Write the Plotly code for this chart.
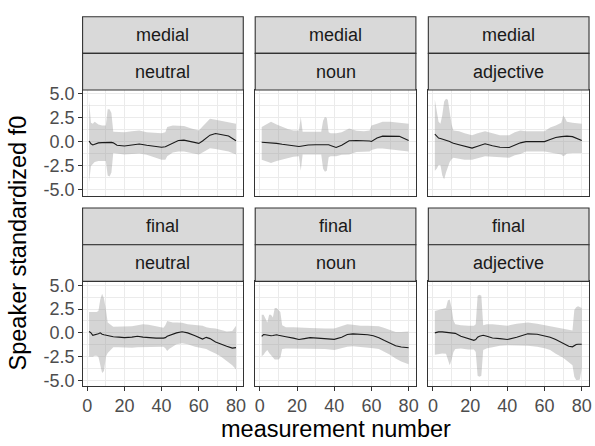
import plotly.graph_objects as go

# ---------------- data ----------------
position_labels = ["medial", "final"]
type_labels = ["neutral", "noun", "adjective"]

x_ticks = [0, 20, 40, 60, 80]
y_ticks = [-5.0, -2.5, 0.0, 2.5, 5.0]
y_tick_text = ["-5.0", "-2.5", "0.0", "2.5", "5.0"]

# medial / neutral
mn_x = [1, 2, 3, 4, 6, 8, 10, 11, 12, 13, 14, 16, 20, 24, 28, 32, 36, 40, 42, 43, 46, 49, 52, 56, 60, 62, 66, 69, 72, 76, 80]
mn_mean = [0.1, -0.2, -0.32, -0.25, -0.1, -0.08, -0.05, -0.05, -0.06, -0.05, -0.1, -0.35, -0.42, -0.35, -0.22, -0.35, -0.45, -0.55, -0.5, -0.4, -0.1, 0.15, 0.18, 0.05, -0.15, 0.1, 0.7, 0.88, 0.75, 0.62, 0.12]
mn_hi = [4.3, 2.0, 1.9, 2.1, 1.8, 1.7, 1.7, 3.4, 3.4, 3.0, 1.05, 1.05, 1.0, 1.1, 1.2, 1.0, 0.95, 0.9, 1.0, 1.55, 1.7, 1.7, 1.65, 1.4, 1.2, 1.6, 2.4, 2.3, 2.2, 2.0, 1.9]
mn_lo = [-4.2, -2.5, -2.3, -2.1, -2.0, -2.0, -2.0, -3.5, -3.6, -3.2, -1.15, -1.2, -1.3, -1.25, -1.2, -1.35, -1.6, -1.85, -1.85, -1.5, -1.1, -1.0, -1.0, -1.15, -1.3, -1.1, -0.65, -0.75, -0.85, -1.0, -1.3]

# medial / noun
mo_x = [1, 3, 6, 9, 12, 15, 18, 21, 22, 23, 26, 30, 33, 34, 35, 36, 37, 38, 41, 44, 48, 52, 56, 59, 60, 63, 66, 70, 75, 80]
mo_mean = [-0.03, -0.05, -0.1, -0.15, -0.25, -0.35, -0.42, -0.48, -0.45, -0.4, -0.33, -0.3, -0.3, -0.28, -0.27, -0.28, -0.3, -0.38, -0.58, -0.35, 0.12, 0.14, 0.14, 0.1, 0.05, 0.4, 0.6, 0.6, 0.58, 0.14]
mo_hi = [1.55, 1.8, 2.1, 1.8, 1.55, 1.35, 1.2, 1.2, 2.6, 1.05, 1.05, 1.05, 1.05, 2.2, 2.6, 2.5, 1.0, 0.9, 0.9, 1.0, 1.4, 1.15, 1.1, 1.2, 1.7, 1.9, 2.1, 2.1, 2.0, 1.9]
mo_lo = [-1.85, -2.0, -2.2, -2.0, -1.85, -1.7, -1.55, -1.5, -3.0, -1.3, -1.3, -1.3, -1.3, -2.8, -3.1, -3.0, -1.6, -1.5, -1.5, -1.35, -1.3, -1.05, -1.0, -1.0, -0.85, -0.7, -0.7, -0.8, -0.85, -1.0]

# medial / adjective
ma_x = [1, 2, 3, 4, 5, 6, 7, 8, 9, 10, 11, 14, 17, 21, 24, 28, 32, 36, 41, 44, 47, 50, 55, 60, 63, 66, 69, 70, 71, 72, 75, 80]
ma_mean = [0.8, 0.6, 0.4, 0.35, 0.3, 0.25, 0.2, 0.15, 0.05, -0.05, -0.14, -0.3, -0.45, -0.65, -0.45, -0.2, -0.4, -0.55, -0.58, -0.35, -0.1, 0.03, 0.03, 0.03, 0.25, 0.45, 0.55, 0.58, 0.6, 0.6, 0.55, 0.14]
ma_hi = [4.4, 3.4, 2.1, 1.9, 2.8, 4.2, 4.5, 4.4, 3.2, 1.8, 1.2, 1.1, 0.9, 0.7, 0.9, 1.1, 0.9, 0.7, 0.7, 1.0, 1.2, 1.1, 1.1, 1.1, 1.5, 1.7, 2.0, 2.75, 2.5, 2.1, 2.0, 1.9]
ma_lo = [-3.0, -2.8, -2.4, -2.4, -3.5, -3.9, -3.2, -2.6, -2.1, -1.8, -1.65, -1.75, -1.85, -1.85, -1.7, -1.5, -1.55, -1.6, -1.65, -1.4, -1.25, -1.0, -1.0, -1.0, -1.1, -1.2, -1.3, -1.5, -1.4, -1.2, -1.15, -1.15]

# final / neutral
fn_x = [1, 2, 3, 4, 5, 6, 7, 8, 9, 10, 11, 14, 17, 20, 24, 27, 30, 33, 37, 41, 42, 43, 44, 46, 48, 51, 54, 58, 62, 64, 66, 69, 72, 75, 78, 80]
fn_mean = [0.15, 0.0, -0.25, -0.22, -0.2, -0.1, 0.0, -0.15, -0.2, -0.25, -0.3, -0.4, -0.45, -0.5, -0.45, -0.35, -0.45, -0.52, -0.55, -0.55, -0.5, -0.35, -0.27, -0.15, 0.0, 0.12, 0.0, -0.3, -0.65, -0.47, -0.6, -0.95, -1.2, -1.4, -1.6, -1.55]
fn_hi = [2.2, 2.2, 2.2, 2.2, 2.2, 2.3, 3.5, 4.1, 3.6, 2.5, 1.1, 0.65, 0.65, 0.65, 0.7, 0.8, 0.9, 0.85, 0.7, 0.55, 0.8, 1.25, 1.2, 1.1, 1.1, 1.05, 0.9, 0.85, 0.75, 0.6, 0.5, 0.45, 0.3, 0.15, 0.2, 0.75]
fn_lo = [-2.5, -2.5, -2.5, -2.4, -2.4, -2.5, -3.5, -4.2, -4.0, -2.5, -2.1, -1.5, -1.5, -1.55, -1.55, -1.5, -1.5, -1.45, -1.45, -1.45, -1.6, -1.9, -1.7, -1.45, -1.2, -1.1, -1.2, -1.45, -1.6, -1.7, -1.9, -2.15, -2.5, -3.0, -3.4, -3.85]

# final / noun
fo_x = [1, 2, 3, 4, 5, 6, 7, 8, 9, 10, 11, 12, 14, 18, 21, 24, 27, 31, 35, 40, 44, 47, 50, 54, 58, 61, 64, 67, 70, 73, 76, 80]
fo_mean = [-0.37, -0.17, -0.2, -0.25, -0.27, -0.3, -0.27, -0.22, -0.2, -0.25, -0.27, -0.3, -0.4, -0.55, -0.7, -0.6, -0.5, -0.55, -0.6, -0.68, -0.45, -0.17, -0.1, -0.12, -0.2, -0.3, -0.5, -0.8, -1.1, -1.35, -1.48, -1.56]
fo_hi = [1.9, 1.9, 1.5, 1.1, 1.9, 1.9, 1.6, 2.6, 2.6, 2.4, 2.2, 0.8, 0.6, 0.58, 0.6, 0.55, 0.5, 0.45, 0.45, 0.45, 0.7, 0.9, 0.85, 0.75, 0.75, 0.75, 0.7, 0.5, 0.3, 0.1, 0.1, 0.14]
fo_lo = [-2.45, -2.3, -2.0, -1.8, -2.1, -2.3, -2.5, -2.8, -2.8, -2.8, -2.6, -1.7, -1.65, -1.65, -1.65, -1.65, -1.65, -1.65, -1.7, -1.8, -1.6, -1.46, -1.4, -1.46, -1.5, -1.6, -1.7, -2.0, -2.3, -2.7, -3.0, -3.3]

# final / adjective
fa_x = [1, 3, 5, 7, 8, 9, 10, 11, 12, 15, 19, 22, 23, 24, 25, 26, 27, 29, 32, 36, 40, 45, 51, 56, 60, 63, 66, 70, 73, 75, 76, 77, 78, 79, 80]
fa_mean = [0.0, 0.1, 0.1, 0.07, 0.05, 0.03, 0.0, -0.03, -0.05, -0.35, -0.6, -0.78, -0.7, -0.45, -0.35, -0.27, -0.25, -0.35, -0.54, -0.6, -0.7, -0.45, -0.1, -0.15, -0.34, -0.45, -0.7, -1.1, -1.4, -1.46, -1.3, -1.22, -1.2, -1.2, -1.19]
fa_hi = [2.3, 2.4, 2.5, 2.6, 3.4, 3.5, 2.6, 1.3, 0.9, 0.8, 0.75, 0.75, 0.9, 3.9, 4.0, 3.9, 0.8, 0.9, 0.9, 0.85, 0.75, 0.95, 1.1, 0.95, 0.8, 0.7, 0.6, 0.4, 0.3, 0.25, 2.4, 2.7, 2.8, 2.7, 2.6]
fa_lo = [-2.3, -2.2, -2.15, -2.2, -2.8, -3.4, -2.8, -2.0, -1.7, -1.65, -1.75, -1.75, -2.0, -4.5, -4.6, -4.5, -1.8, -1.6, -1.5, -1.35, -1.3, -1.3, -1.35, -1.45, -1.6, -1.8, -2.2, -2.6, -3.1, -3.4, -4.6, -4.95, -4.95, -4.9, -3.7]

panels = [
    (0, 0, mn_x, mn_mean, mn_lo, mn_hi),
    (0, 1, mo_x, mo_mean, mo_lo, mo_hi),
    (0, 2, ma_x, ma_mean, ma_lo, ma_hi),
    (1, 0, fn_x, fn_mean, fn_lo, fn_hi),
    (1, 1, fo_x, fo_mean, fo_lo, fo_hi),
    (1, 2, fa_x, fa_mean, fa_lo, fa_hi),
]

# ---------------- layout geometry (pixels) ----------------
W, H = 595, 446
col_px = [(83, 244.5), (256.5, 418), (430.5, 592)]
row_px = [(86, 194), (281.7, 389)]
strip_px = [(11, 48.5, 86), (206.7, 244.2, 281.7)]

FONT = "Liberation Sans, Arial, sans-serif"
GRID = "#EBEBEB"
BORDER = "#333333"

fig = go.Figure()
layout = dict(
    width=W, height=H, autosize=False,
    margin=dict(l=0, r=0, t=0, b=0, pad=0),
    paper_bgcolor="white", plot_bgcolor="white",
    showlegend=False,
    font=dict(family=FONT, size=18, color="#4D4D4D"),
)
shapes = []
annotations = []

for i, (r, c, xs, mean, lo, hi) in enumerate(panels):
    assert len(xs) == len(mean) == len(lo) == len(hi), i
    n = i + 1
    xa = "x" if n == 1 else f"x{n}"
    ya = "y" if n == 1 else f"y{n}"
    fig.add_trace(go.Scatter(x=xs, y=lo, mode="lines", line=dict(width=0),
                             hoverinfo="skip", xaxis=xa, yaxis=ya))
    fig.add_trace(go.Scatter(x=xs, y=hi, mode="lines", line=dict(width=0),
                             fill="tonexty", fillcolor="rgba(150,150,150,0.40)",
                             hoverinfo="skip", xaxis=xa, yaxis=ya))
    fig.add_trace(go.Scatter(x=xs, y=mean, mode="lines",
                             line=dict(color="#1A1A1A", width=1.1),
                             xaxis=xa, yaxis=ya))

    x0, x1 = col_px[c]
    y0, y1 = row_px[r]
    xkey = "xaxis" if n == 1 else f"xaxis{n}"
    ykey = "yaxis" if n == 1 else f"yaxis{n}"
    layout[xkey] = dict(
        domain=[x0 / W, x1 / W], anchor=ya, range=[-2.5, 83.9],
        tickmode="array", tickvals=x_ticks,
        showticklabels=(r == 1), ticks="outside" if r == 1 else "",
        ticklen=3.5, tickwidth=1, tickcolor=BORDER,
        tickfont=dict(size=18, color="#4D4D4D", family=FONT),
        showgrid=True, gridcolor=GRID, gridwidth=1.1,
        minor=dict(tickmode="array", tickvals=[10, 30, 50, 70], showgrid=True,
                   gridcolor=GRID, gridwidth=0.55, ticks=""),
        showline=True, mirror=True, linecolor=BORDER, linewidth=1.1,
        zeroline=False, fixedrange=True,
    )
    layout[ykey] = dict(
        domain=[1 - y1 / H, 1 - y0 / H], anchor=xa, range=[-5.6, 5.4],
        tickmode="array", tickvals=y_ticks, ticktext=y_tick_text,
        showticklabels=(c == 0), ticks="outside" if c == 0 else "",
        ticklen=3.5, tickwidth=1, tickcolor=BORDER,
        tickfont=dict(size=18, color="#4D4D4D", family=FONT),
        showgrid=True, gridcolor=GRID, gridwidth=1.1,
        minor=dict(tickmode="array", tickvals=[-3.75, -1.25, 1.25, 3.75], showgrid=True,
                   gridcolor=GRID, gridwidth=0.55, ticks=""),
        showline=True, mirror=True, linecolor=BORDER, linewidth=1.1,
        zeroline=False, fixedrange=True,
    )

    # strips
    st, sm, sb = strip_px[r]
    for (a, b, label) in [(st, sm, position_labels[r]), (sm, sb, type_labels[c])]:
        shapes.append(dict(type="rect", xref="paper", yref="paper",
                           x0=x0 / W, x1=x1 / W, y0=1 - b / H, y1=1 - a / H,
                           fillcolor="#D9D9D9", line=dict(color=BORDER, width=1.1),
                           layer="above"))
        annotations.append(dict(text=label, xref="paper", yref="paper",
                                x=(x0 + x1) / 2 / W, y=1 - (a + b) / 2 / H,
                                xanchor="center", yanchor="middle", showarrow=False,
                                font=dict(size=18, color="#1A1A1A", family=FONT)))

# axis titles
annotations.append(dict(text="measurement number", xref="paper", yref="paper",
                        x=(83 + 592) / 2 / W, y=1 - 433 / H, xanchor="center", yanchor="middle",
                        showarrow=False, font=dict(size=23.5, color="black", family=FONT)))
annotations.append(dict(text="Speaker standardized f0", xref="paper", yref="paper",
                        x=18 / W, y=1 - 242 / H, xanchor="center", yanchor="middle",
                        textangle=-90, showarrow=False,
                        font=dict(size=23.5, color="black", family=FONT)))

layout["shapes"] = shapes
layout["annotations"] = annotations
fig.update_layout(**layout)
fig.write_html(
    "out.html",
    config={"displayModeBar": False},
    post_script="document.body.style.margin='0';document.body.style.padding='0';document.body.style.overflow='hidden';",
)
